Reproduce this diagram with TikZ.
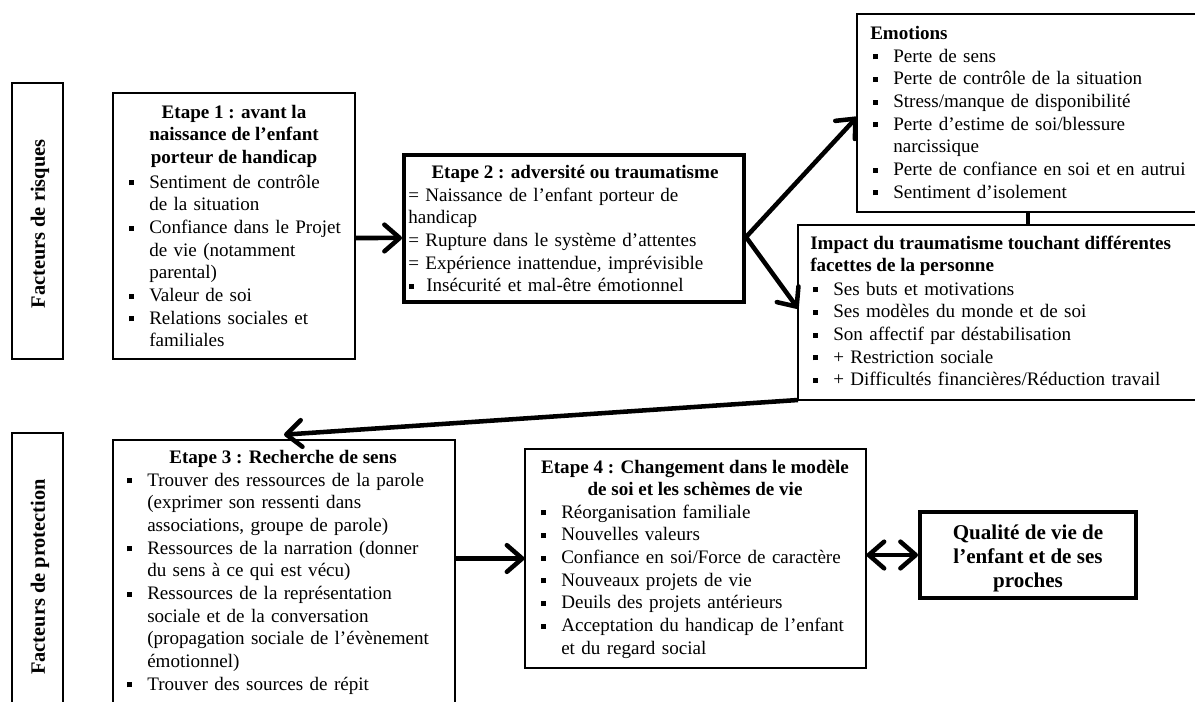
\documentclass[tikz,border=0pt]{standalone}
\usepackage{fontspec}
\setmainfont{Liberation Serif}
\usetikzlibrary{arrows.meta,fit}
\newcommand\bodyfont{\fontsize{14.3}{17}\selectfont}
\newcommand\bsq{\rule[2pt]{3.9pt}{3.9pt}}
\newcommand\fitm{\hangindent=15pt\hangafter=1\noindent\strut\makebox[15pt][l]{\bsq}}
\newcommand\itm{\par\fitm}
\tikzset{
  box/.style={draw, line width=0.8pt, inner sep=0pt},
  obox/.style={inner sep=0pt, outer sep=0pt},
  edge/.style={line width=0.8pt},
  tbox/.style={draw, line width=3pt, inner sep=0pt},
  barb/.tip={Straight Barb[length=11.5pt,width=20pt,round]},
  arr/.style={line width=3.4pt, -barb},
  darr/.style={line width=3.4pt, barb-barb},
  link/.style={line width=3.5pt},
  txt/.style={anchor=north west, inner sep=0pt, font=\bodyfont, text width=#1, align=left},
  hd/.style={anchor=north, inner sep=0pt, font={\bodyfont\bfseries}, align=center},
  hdl/.style={anchor=north west, inner sep=0pt, font={\bodyfont\bfseries}, align=left},
  side/.style={rotate=90, inner sep=0pt, font={\fontsize{15.3}{18}\selectfont\bfseries}},
}
\begin{document}
\begin{tikzpicture}[x=0.75pt,y=-0.75pt]
\useasboundingbox (0,0) rectangle (1195,702);

% side boxes
\node[box, fit={(12,83) (63,359)}] (risk) {};
\node[obox, fit={(12,433) (63,702)}] (prot) {};
\draw[edge] (prot.south west) -- (prot.north west) -- (prot.north east) -- (prot.south east);
\node[side] (riskt) at (40,224) {Facteurs de risques};
\node[side] (prott) at (40,577) {Facteurs de protection};

% boxes
\node[box, fit={(113,93) (355,359)}] (e1) {};
\node[tbox, fit={(404,155) (744,302)}] (e2) {};
\node[obox, fit={(857,14) (1195,212)}] (em) {};
\draw[edge] (em.north east) -- (em.north west) -- (em.south west) -- (em.south east);
\node[obox, fit={(798,225) (1195,400)}] (imp) {};
\draw[edge] (imp.north east) -- (imp.north west) -- (imp.south west) -- (imp.south east);
\node[obox, fit={(113,440) (455,702)}] (e3) {};
\draw[edge] (e3.south west) -- (e3.north west) -- (e3.north east) -- (e3.south east);
\node[box, fit={(525,449) (866,668)}] (e4) {};
\node[tbox, fit={(920,512) (1136,598)}] (q) {};

% Etape 1
\node[hd] (e1h) at (234,102) {\strut Etape 1 : avant la\\ naissance de l’enfant\\ porteur de handicap};
\node[txt=250pt] (e1b) at (129,172) {\fitm Sentiment de contrôle\newline de la situation
\itm Confiance dans le Projet\newline de vie (notamment\newline parental)
\itm Valeur de soi
\itm Relations sociales et\newline familiales\par};

% Etape 2
\node[hd] (e2h) at (575,162) {\strut Etape 2 : adversité ou traumatisme};
\node[txt=330pt] (e2b) at (408,185) {\noindent\strut= Naissance de l’enfant porteur de\newline handicap\newline = Rupture dans le système d’attentes\newline = Expérience inattendue, imprévisible\newline \makebox[13.5pt][l]{\hspace{0.75pt}\bsq}Insécurité et mal-être émotionnel\par};

% Emotions
\node[hdl] (emh) at (870,23) {\strut Emotions};
\node[txt=300pt] (emb) at (873,46) {\fitm Perte de sens
\itm Perte de contrôle de la situation
\itm Stress/manque de disponibilité
\itm Perte d’estime de soi/blessure\newline narcissique
\itm Perte de confiance en soi et en autrui
\itm Sentiment d’isolement\par};

% Impact
\node[hdl] (imph) at (810,233) {\strut Impact du traumatisme touchant différentes\\ facettes de la personne};
\node[txt=330pt] (impb) at (813,279) {\fitm Ses buts et motivations
\itm Ses modèles du monde et de soi
\itm Son affectif par déstabilisation
\itm + Restriction sociale
\itm + Difficultés financières/Réduction travail\par};

% Etape 3
\node[hd] (e3h) at (283,447) {\strut Etape 3 : Recherche de sens};
\node[txt=300pt] (e3b) at (127,470) {\fitm Trouver des ressources de la parole\newline (exprimer son ressenti dans\newline associations, groupe de parole)
\itm Ressources de la narration (donner\newline du sens à ce qui est vécu)
\itm Ressources de la représentation\newline sociale et de la conversation\newline (propagation sociale de l’évènement\newline émotionnel)
\itm Trouver des sources de répit\par};

% Etape 4
\node[hd] (e4h) at (695,457) {\strut Etape 4 : Changement dans le modèle\\ de soi et les schèmes de vie};
\node[txt=300pt] (e4b) at (541,502) {\fitm Réorganisation familiale
\itm Nouvelles valeurs
\itm Confiance en soi/Force de caractère
\itm Nouveaux projets de vie
\itm Deuils des projets antérieurs
\itm Acceptation du handicap de l’enfant\newline et du regard social\par};

% Qualite
\node[inner sep=0pt, align=center, font={\fontsize{15.8}{18}\selectfont\bfseries}] (qt) at ([yshift=-2.2pt]q.center) {Qualité de vie de\\ l’enfant et de ses\\ proches};

% connectors
\coordinate (lx) at (1028,0);
\draw[arr] ([yshift=-9pt]e1.east) -- ([yshift=-7.1pt]e2.west);
\draw[arr] ([yshift=-6.4pt]e2.east) -- ([yshift=-3pt]em.west);
\draw[arr] ([yshift=-6.4pt]e2.east) -- ([yshift=3pt]imp.west);
\draw[link] (em.south -| lx) -- (imp.north -| lx);
\draw[arr] (imp.south west) -- ([yshift=4pt]e3.north);
\draw[arr] (e3.east |- e4.west) -- (e4.west);
\draw[darr] (e4.east |- q.west) -- (q.west);
\end{tikzpicture}
\end{document}
